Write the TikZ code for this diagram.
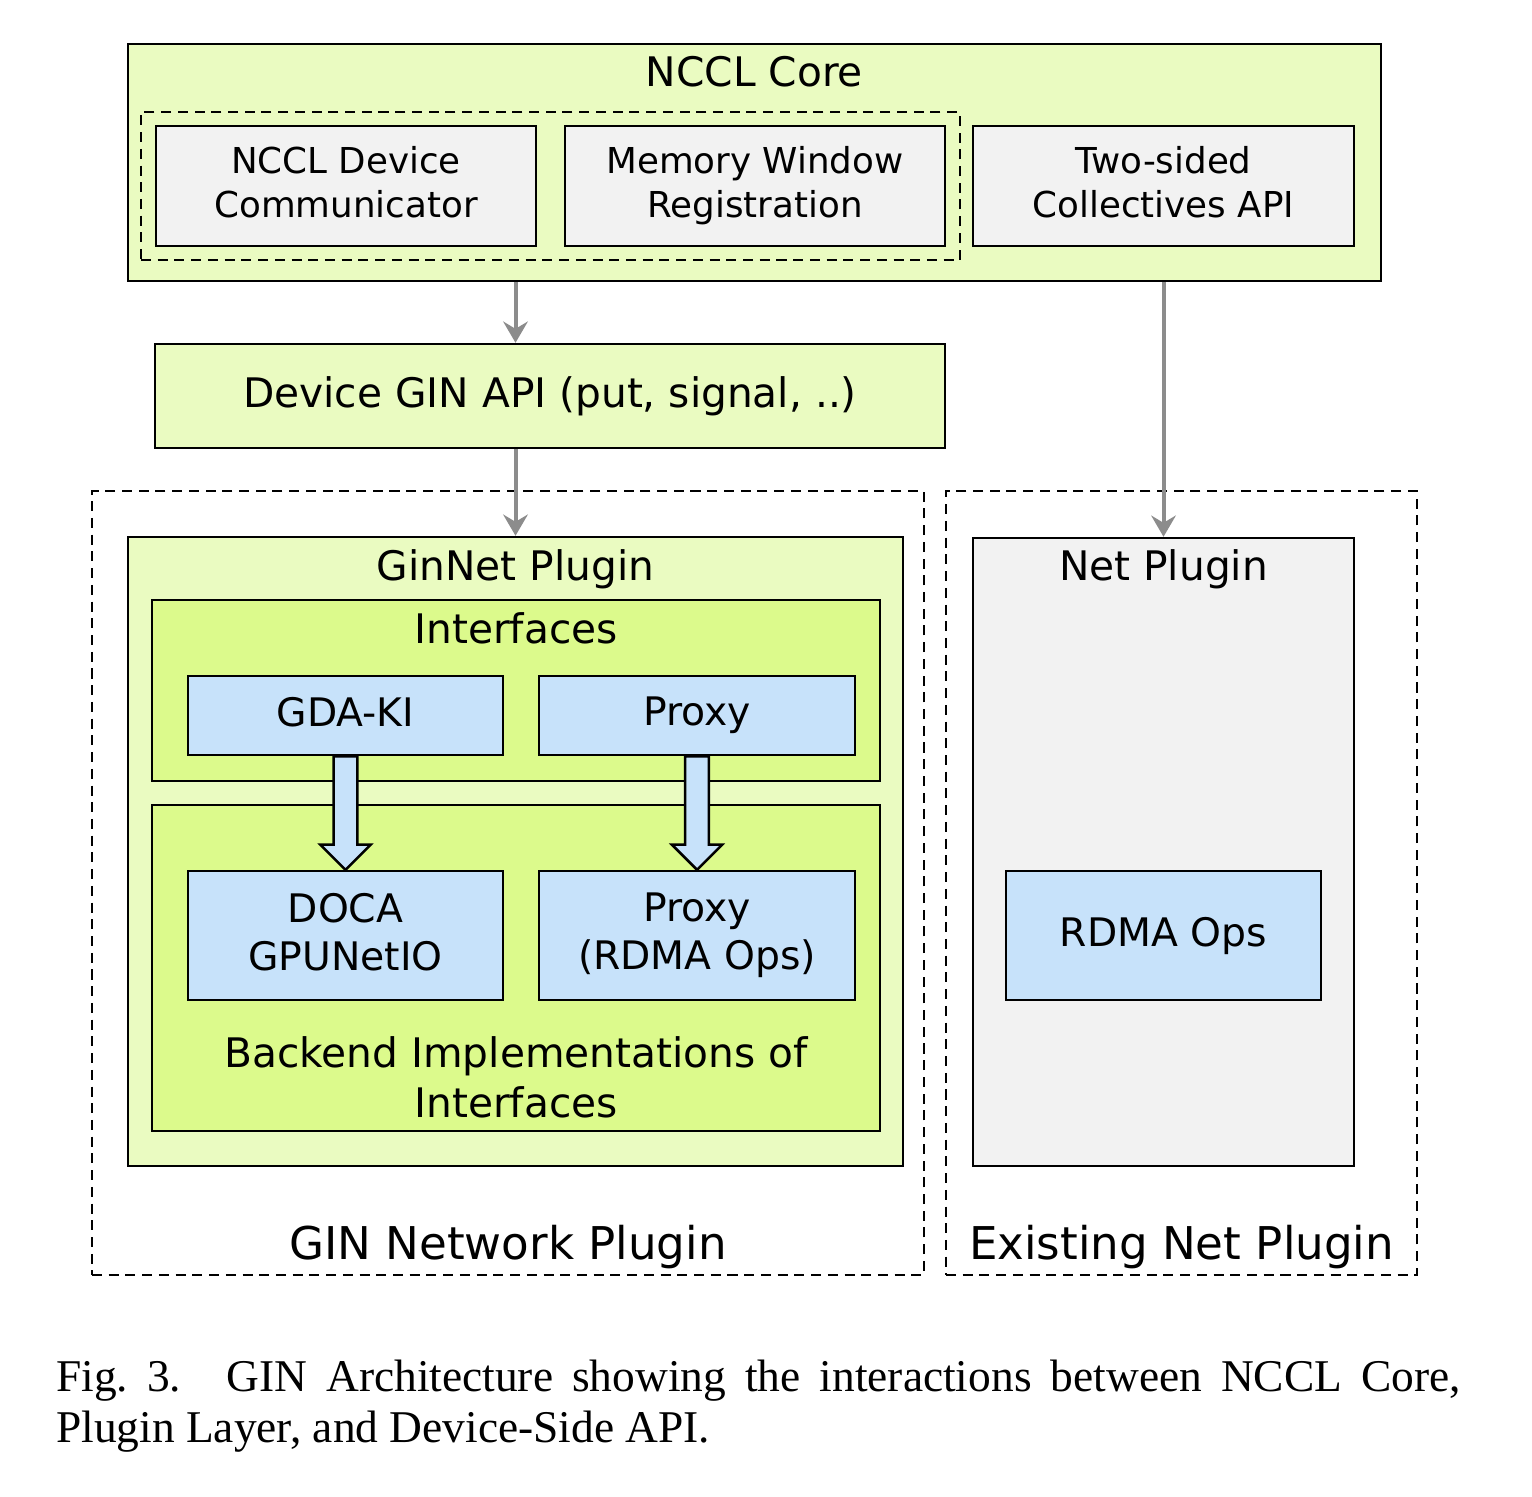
\documentclass[tikz,border=0pt]{standalone}
\usepackage{fontspec}
\setsansfont{DejaVu Sans}
\newfontfamily\capfont{Liberation Serif}
\usetikzlibrary{arrows.meta,calc}
\definecolor{lgreen}{RGB}{234,251,193}
\definecolor{dgreen}{RGB}{220,250,140}
\definecolor{lblue}{RGB}{199,226,250}
\definecolor{lgray}{RGB}{242,242,242}
\definecolor{agray}{RGB}{140,140,140}
\newcommand\pxu{0.1794pt}
\newcommand\dph{\vphantom{gy}}
\tikzset{
  wh/.style 2 args={minimum width={#1*\pxu}, minimum height={#2*\pxu}},
  box/.style={draw=black, line width=0.45pt, inner sep=0pt, align=center},
  dashbox/.style={draw=black, line width=0.4pt, dash pattern=on 1.8pt off 1.2pt, inner sep=0pt},
  fsmall/.style={font=\sffamily\fontsize{6.4}{7.9}\selectfont},
  fmain/.style={font=\sffamily\fontsize{7.3}{8.8}\selectfont},
  fblue/.style={font=\sffamily\fontsize{7.05}{8.6}\selectfont},
  fbig/.style={font=\sffamily\fontsize{8.1}{9.6}\selectfont},
  lbl/.style={inner sep=0pt, anchor=base},
  garrow/.style={draw=agray, line width=0.72pt, -{Stealth[length=3.8pt,width=4.4pt,inset=1.3pt]}},
  fat/.style={draw=black, line width=0.45pt, fill=lblue, line join=miter},
}
\begin{document}
\begin{tikzpicture}[x=0.1794pt,y=-0.1794pt]
\useasboundingbox (0,0) rectangle (1532,1496);
\fill[white] (0,0) rectangle (1532,1496);

% NCCL Core
\node[box, fill=lgreen, wh={1253}{237}] (core) at (754.5,162.5) {};
\node[lbl, fmain] (coret) at (754.5,86) {NCCL Core};
\node[dashbox, wh={819}{148}] (grp) at (550.5,186) {};
\node[box, fill=lgray, fsmall, wh={380}{120}] (ndc) at (346,186) {NCCL Device\\Communicator\dph};
\node[box, fill=lgray, fsmall, wh={380}{120}] (mwr) at (755,186) {Memory Window\\Registration\dph};
\node[box, fill=lgray, fsmall, wh={381}{120}] (two) at (1163.5,186) {Two-sided\\Collectives API\dph};

% Device API
\node[box, fill=lgreen, fmain, wh={790}{104}] (api) at (550,396) {Device GIN API (put, signal, ..)};

% outer dashed groups
\node[dashbox, wh={832}{784}] (ginout) at (508,883) {};
\node[dashbox, wh={471}{784}] (exout) at (1181.5,883) {};
\node[lbl, fbig] (ginlbl) at (508,1259) {GIN Network Plugin};
\node[lbl, fbig] (exlbl) at (1181.5,1259) {Existing Net Plugin};

% GinNet plugin
\node[box, fill=lgreen, wh={775}{629}] (ginnet) at (515.5,851.5) {};
\node[lbl, fmain] (ginnett) at (515.5,580) {GinNet Plugin};
\node[box, fill=dgreen, wh={728}{181}] (iface) at (516,690.5) {};
\node[lbl, fmain] (ifacet) at (516,643) {Interfaces};
\node[box, fill=lblue, fblue, wh={315}{79}] (gda) at (345.5,715.5) {GDA-KI\dph};
\node[box, fill=lblue, fblue, wh={316}{79}] (proxy) at (697,715.5) {Proxy\dph};
\node[box, fill=dgreen, wh={728}{326}] (backend) at (516,968) {};
\node[lbl, fmain, align=center] (backendt) at (516,1117) {Backend Implementations of\\Interfaces};
\node[box, fill=lblue, fblue, wh={315}{129}] (doca) at (345.5,935.5) {DOCA\\GPUNetIO\dph};
\node[box, fill=lblue, fblue, wh={316}{129}] (proxyr) at (697,935.5) {Proxy\\(RDMA Ops)};

% Net plugin
\node[box, fill=lgray, wh={381}{628}] (netp) at (1163.5,852) {};
\node[lbl, fmain] (netpt) at (1163.5,580) {Net Plugin};
\node[box, fill=lblue, fblue, wh={315}{129}] (rdma) at (1163.5,935.5) {RDMA Ops\dph};

% gray connectors
\draw[garrow] (core.south -| ginnet.north) -- (api.north -| ginnet.north);
\draw[garrow] (api.south -| ginnet.north) -- (ginnet.north);
\draw[garrow] (core.south -| netp.north) -- (netp.north);

% fat arrows
\draw[fat] let \p1=(gda.south), \p2=(doca.north) in
  ({\x1-2.15pt},\y1) -- ({\x1-2.15pt},{\y2+4.5pt}) -- ({\x1-4.5pt},{\y2+4.5pt}) -- (\x1,\y2)
  -- ({\x1+4.5pt},{\y2+4.5pt}) -- ({\x1+2.15pt},{\y2+4.5pt}) -- ({\x1+2.15pt},\y1) -- cycle;
\draw[fat] let \p1=(proxy.south), \p2=(proxyr.north) in
  ({\x1-2.15pt},\y1) -- ({\x1-2.15pt},{\y2+4.5pt}) -- ({\x1-4.5pt},{\y2+4.5pt}) -- (\x1,\y2)
  -- ({\x1+4.5pt},{\y2+4.5pt}) -- ({\x1+2.15pt},{\y2+4.5pt}) -- ({\x1+2.15pt},\y1) -- cycle;

% caption
\node[anchor=north west, inner sep=0pt, text width=252pt, align=justify,
      font=\capfont\fontsize{8.15}{9.15}\selectfont] (cap) at (55,1359)
  {Fig.~3.\hspace{1em}GIN Architecture showing the interactions between NCCL Core,\linebreak Plugin Layer, and Device-Side API.};
\end{tikzpicture}
\end{document}
